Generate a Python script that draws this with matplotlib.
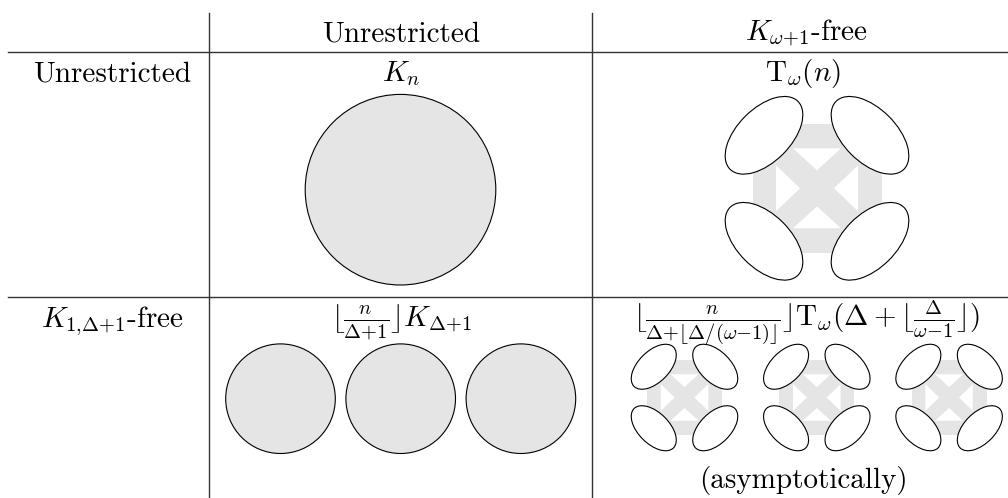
import matplotlib
matplotlib.use('Agg')
import matplotlib.pyplot as plt
import matplotlib.patches as patches

plt.rcParams['font.family'] = 'serif'
plt.rcParams['font.serif'] = ['cmr10']
plt.rcParams['mathtext.fontset'] = 'cm'
plt.rcParams['axes.unicode_minus'] = False

# table content
col_labels = ['Unrestricted', r'$K_{\omega{+}1}$-free']
row_labels = ['Unrestricted', r'$K_{1{,}\Delta{+}1}$-free']
cell_labels = [
    [r'$K_n$', r'$\mathrm{T}_\omega(n)$'],
    [r'$\lfloor\frac{n}{\Delta{+}1}\rfloor K_{\Delta{+}1}$',
     r'$\lfloor\frac{n}{\Delta{+}\lfloor\Delta/(\omega{-}1)\rfloor}\rfloor'
     r'\mathrm{T}_\omega(\Delta+\lfloor\frac{\Delta}{\omega{-}1}\rfloor)$'],
]
copies = [1, 3]          # number of components drawn in each row
footnote = '(asymptotically)'

GRAY = '#e5e5e5'
LINE = '#333333'
FS = 21

fig = plt.figure(figsize=(10.08, 4.98), dpi=100)
ax = fig.add_axes([0, 0, 1, 1])
ax.set_xlim(0, 1008)
ax.set_ylim(498, 0)
ax.axis('off')

# grid lines
ax.plot([8, 1008], [51.7, 51.7], color=LINE, lw=1)
ax.plot([8, 1008], [297.3, 297.3], color=LINE, lw=1)
ax.plot([209, 209], [13, 498], color=LINE, lw=1)
ax.plot([592, 592], [13, 498], color=LINE, lw=1)

# header / labels
col_x = [401, 806]
row_base = [81, 327]
for label, x in zip(col_labels, col_x):
    ax.text(x, 41, label, ha='center', va='baseline', fontsize=FS)
for label, y in zip(row_labels, row_base):
    ax.text(112, y, label, ha='center', va='baseline', fontsize=FS)
cell_x = [[401, 803], [401, 806]]
for r in range(2):
    for c in range(2):
        ax.text(cell_x[r][c], row_base[r], cell_labels[r][c],
                ha='center', va='baseline', fontsize=FS)
ax.text(803, 488, footnote, ha='center', va='baseline', fontsize=FS)


def clique(cx, cy, r):
    ax.add_patch(patches.Circle((cx, cy), r, fc=GRAY, ec='black', lw=0.8))


def turan(cx, cy, s):
    # gray edges between the four parts
    h = 64.5 * s
    ax.add_patch(patches.Rectangle((cx - h, cy - h), 2 * h, 2 * h,
                                   fc=GRAY, ec='none'))
    tri = [
        [(-24, -40), (24, -40), (0, -18)],
        [(-24, 40), (24, 40), (0, 18)],
        [(-41, -23), (-41, 23), (-17, 0)],
        [(41, -23), (41, 23), (17, 0)],
    ]
    for t in tri:
        pts = [(cx + px * s, cy + py * s) for px, py in t]
        ax.add_patch(patches.Polygon(pts, fc='white', ec='none'))
    d = 53 * s
    for sx in (-1, 1):
        for sy in (-1, 1):
            ang = -45 if sx * sy > 0 else 45
            ax.add_patch(patches.Ellipse((cx + sx * d, cy + sy * d),
                                         96 * s, 53.4 * s, angle=ang,
                                         fc='white', ec='black', lw=0.8))


# row 1
clique(400.5, 189.7, 95.3)
turan(817, 188.3, 1.0)

# row 2
for i in range(copies[1]):
    clique(280.5 + i * 120.2, 398.7, 54.8)
    turan(684.5 + i * 132.3, 397.5, 0.58)

fig.savefig('out.png', dpi=100)
